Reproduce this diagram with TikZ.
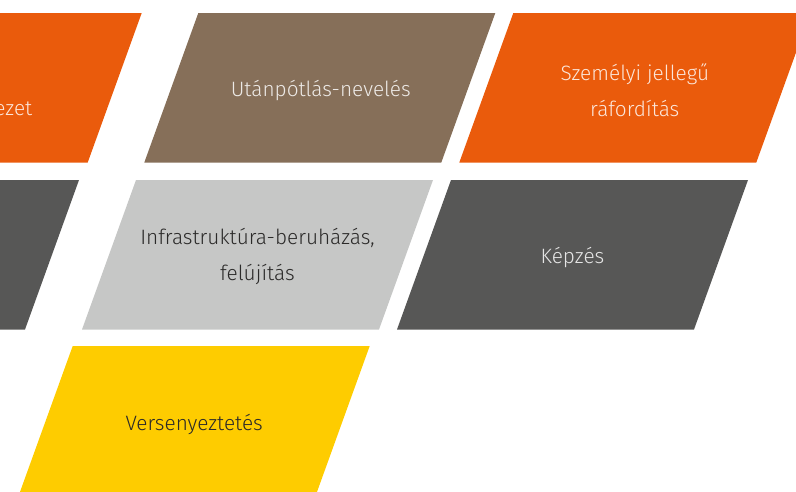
\documentclass[tikz,border=0pt]{standalone}
\usepackage{fontspec}
\setmainfont{Fira Sans Light}
\definecolor{corange}{HTML}{EA5B0C}
\definecolor{cbrown}{HTML}{866F59}
\definecolor{clight}{HTML}{C6C7C6}
\definecolor{cdark}{HTML}{575756}
\definecolor{cyellow}{HTML}{FECC00}
\definecolor{tdark}{HTML}{2B2A29}
\begin{document}
\begin{tikzpicture}[x=1pt,y=-1pt,
  lbl/.style={font=\fontsize{20.8}{36}\selectfont, align=center, inner sep=0pt},
  lighttxt/.style={text=white, text opacity=0.85},
  darktxt/.style={text=tdark}]
\useasboundingbox (0,0) rectangle (796,491);
\clip (0,0) rectangle (796,491);
\newcommand\parashape[3]{\fill[#3] (#1,#2) -- ++(297,0) -- ++(-54,149.5) -- ++(-297,0) -- cycle;}
% row 1
\parashape{-155.3}{13}{corange}
\parashape{198.3}{13}{cbrown}
\parashape{513.3}{13}{corange}
% row 2
\parashape{-218}{180}{cdark}
\parashape{136}{180}{clight}
\parashape{451}{180}{cdark}
% row 3
\parashape{72.7}{346}{cyellow}
% labels
\node[lbl, lighttxt, anchor=base east] (ezet) at (32.5,115) {ezet};
\node[lbl, lighttxt] (utan) at (320.8,90.5) {Utánpótlás-nevelés};
\node[lbl, lighttxt] (szem) at (634.8,90) {Személyi jellegű\\ráfordítás};
\node[lbl, darktxt] (infra) at (257.5,256.5) {Infrastruktúra-beruházás,\\felújítás};
\node[lbl, lighttxt] (kepzes) at (572.5,257.5) {Képzés};
\node[lbl, darktxt] (verseny) at (194.2,424.5) {Versenyeztetés};
\end{tikzpicture}
\end{document}
